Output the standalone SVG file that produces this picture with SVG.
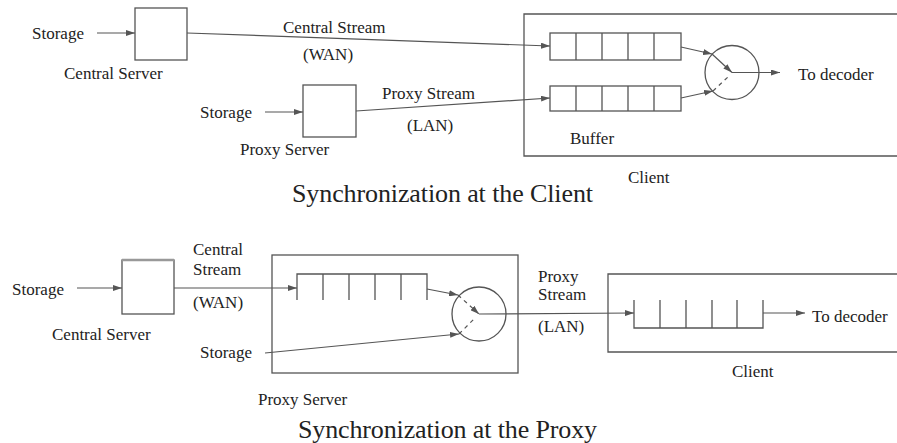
<svg xmlns="http://www.w3.org/2000/svg" width="897" height="443" viewBox="0 0 897 443">
<style>
text{font-family:"Liberation Serif","Times New Roman",serif;fill:#222;font-size:17px}
.title{font-size:26px}
.box{fill:none;stroke:#555;stroke-width:1.3}
.ln{fill:none;stroke:#555;stroke-width:1.2}
.dash{fill:none;stroke:#555;stroke-width:1.2;stroke-dasharray:4 4}
.arr{marker-end:url(#ah)}
</style>
<defs>
<marker id="ah" viewBox="0 0 9 6" refX="9" refY="3" markerWidth="9" markerHeight="6" markerUnits="userSpaceOnUse" orient="auto">
<path d="M0,0 L9,3 L0,6 z" fill="#555"/>
</marker>
</defs>
<rect width="897" height="443" fill="#fff"/>

<!-- Top: Synchronization at the Client -->
<g id="top-storage1"><text x="32" y="39">Storage</text></g>
<g id="top-central-server">
<rect class="box" x="135" y="8" width="52" height="52"/>
<text x="64" y="79">Central Server</text>
</g>
<g id="top-storage2"><text x="200" y="118">Storage</text></g>
<g id="top-proxy-server">
<rect class="box" x="303" y="85" width="53" height="52"/>
<text x="240" y="155">Proxy Server</text>
</g>
<g id="top-client">
<path class="box" d="M905,14 H524 V156 H905"/>
<text x="628" y="183">Client</text>
<text x="570" y="144">Buffer</text>
</g>
<g id="top-queue1">
<rect class="box" x="550" y="33" width="131" height="27"/>
<path class="box" d="M576,33V60M602,33V60M628,33V60M654,33V60"/>
</g>
<g id="top-queue2">
<rect class="box" x="550" y="86" width="131" height="25"/>
<path class="box" d="M576,86V111M602,86V111M628,86V111M654,86V111"/>
</g>
<g id="top-mux"><circle class="box" cx="732" cy="72.5" r="27"/></g>
<g id="top-decoder"><text x="798" y="80">To decoder</text></g>
<g id="top-labels">
<text x="283" y="33">Central Stream</text>
<text x="303" y="60">(WAN)</text>
<text x="382" y="99">Proxy Stream</text>
<text x="407" y="131">(LAN)</text>
</g>
<g id="top-title"><text class="title" x="292" y="202" textLength="301">Synchronization at the Client</text></g>

<!-- Bottom: Synchronization at the Proxy -->
<g id="bot-storage1"><text x="12" y="295">Storage</text></g>
<g id="bot-central-server">
<rect class="box" x="122" y="260" width="52" height="54"/>
<line x1="122" y1="260" x2="174" y2="260" stroke="#999" stroke-width="2.5"/>
<text x="52" y="340">Central Server</text>
</g>
<g id="bot-proxy-server">
<rect class="box" x="272" y="255" width="246" height="118"/>
<text x="258" y="405">Proxy Server</text>
<text x="200" y="358">Storage</text>
</g>
<g id="bot-proxy-queue">
<path class="box" d="M297,300 V274 H427 V300 M323,274V300 M349,274V300 M375,274V300 M401,274V300"/>
</g>
<g id="bot-mux"><circle class="box" cx="479" cy="314" r="27"/></g>
<g id="bot-client">
<path class="box" d="M905,274 H608 V352 H905"/>
<text x="732" y="377">Client</text>
</g>
<g id="bot-client-queue">
<path class="box" d="M634,300 V328 H763 V300 M660,300V328 M686,300V328 M712,300V328 M737,300V328"/>
</g>
<g id="bot-decoder"><text x="812" y="322">To decoder</text></g>
<g id="bot-labels">
<text x="193" y="255">Central</text>
<text x="193" y="275">Stream</text>
<text x="193" y="308">(WAN)</text>
<text x="538" y="282">Proxy</text>
<text x="538" y="300">Stream</text>
<text x="538" y="332">(LAN)</text>
</g>
<g id="bot-title"><text class="title" x="298" y="438" textLength="299">Synchronization at the Proxy</text></g>

<g id="connectors">
<!-- top -->
<line class="ln arr" x1="97" y1="33" x2="135" y2="33"/>
<line class="ln arr" x1="265" y1="112" x2="303" y2="112"/>
<line class="ln arr" x1="187" y1="33" x2="550" y2="46"/>
<line class="ln arr" x1="356" y1="111" x2="550" y2="98"/>
<line class="ln arr" x1="681" y1="47" x2="712" y2="54"/>
<line class="ln arr" x1="712" y1="54" x2="732" y2="72.5"/>
<line class="ln arr" x1="681" y1="98" x2="713" y2="91"/>
<line class="dash" x1="713" y1="91" x2="729" y2="76"/>
<line class="ln arr" x1="732" y1="72.5" x2="780" y2="72.5"/>
<!-- bottom -->
<line class="ln arr" x1="77" y1="288" x2="122" y2="288"/>
<line class="ln arr" x1="174" y1="288" x2="297" y2="288"/>
<line class="ln arr" x1="427" y1="289" x2="458" y2="295"/>
<line class="dash arr" x1="458" y1="295" x2="479" y2="314"/>
<line class="ln arr" x1="265" y1="353" x2="459" y2="334"/>
<line class="dash" x1="459" y1="334" x2="475" y2="318"/>
<line class="ln arr" x1="479" y1="314" x2="634" y2="313"/>
<line class="ln arr" x1="763" y1="313" x2="805" y2="313"/>
</g>
</svg>
